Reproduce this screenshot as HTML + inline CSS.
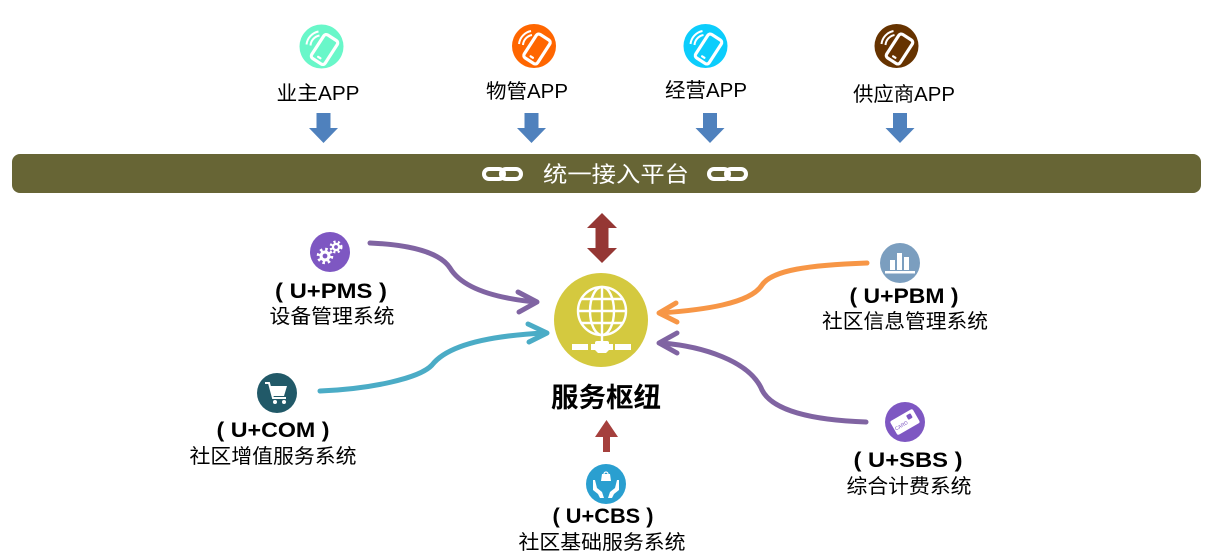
<!DOCTYPE html>
<html><head><meta charset="utf-8"><style>
html,body{margin:0;padding:0;background:#fff;}
svg{display:block;}
text{font-family:"Liberation Sans","Noto Sans CJK SC",sans-serif;}
</style></head><body>
<svg width="1207" height="560" viewBox="0 0 1207 560" xmlns="http://www.w3.org/2000/svg">
<!-- phone icons -->
<g transform="translate(321.5,46.5)">
 <circle r="22" fill="#69f7c9"/>
 <g transform="translate(3,3) rotate(33)"><rect x="-8" y="-14" width="16" height="28" rx="3" fill="none" stroke="#fff" stroke-width="3.2"/><rect x="-2.5" y="8.5" width="5" height="2.2" rx="1.1" fill="#fff"/></g>
 <path d="M-15,-2 A15,15 0 0 1 -3,-15" fill="none" stroke="#fff" stroke-width="2"/>
 <path d="M-11,-1 A11,11 0 0 1 -2,-11" fill="none" stroke="#fff" stroke-width="2"/>
</g>
<g transform="translate(534,46)">
 <circle r="22" fill="#ff6600"/>
 <g transform="translate(3,3) rotate(33)"><rect x="-8" y="-14" width="16" height="28" rx="3" fill="none" stroke="#fff" stroke-width="3.2"/><rect x="-2.5" y="8.5" width="5" height="2.2" rx="1.1" fill="#fff"/></g>
 <path d="M-15,-2 A15,15 0 0 1 -3,-15" fill="none" stroke="#fff" stroke-width="2"/>
 <path d="M-11,-1 A11,11 0 0 1 -2,-11" fill="none" stroke="#fff" stroke-width="2"/>
</g>
<g transform="translate(705.5,46)">
 <circle r="22" fill="#0ccdfc"/>
 <g transform="translate(3,3) rotate(33)"><rect x="-8" y="-14" width="16" height="28" rx="3" fill="none" stroke="#fff" stroke-width="3.2"/><rect x="-2.5" y="8.5" width="5" height="2.2" rx="1.1" fill="#fff"/></g>
 <path d="M-15,-2 A15,15 0 0 1 -3,-15" fill="none" stroke="#fff" stroke-width="2"/>
 <path d="M-11,-1 A11,11 0 0 1 -2,-11" fill="none" stroke="#fff" stroke-width="2"/>
</g>
<g transform="translate(896.5,46)">
 <circle r="22" fill="#663300"/>
 <g transform="translate(3,3) rotate(33)"><rect x="-8" y="-14" width="16" height="28" rx="3" fill="none" stroke="#fff" stroke-width="3.2"/><rect x="-2.5" y="8.5" width="5" height="2.2" rx="1.1" fill="#fff"/></g>
 <path d="M-15,-2 A15,15 0 0 1 -3,-15" fill="none" stroke="#fff" stroke-width="2"/>
 <path d="M-11,-1 A11,11 0 0 1 -2,-11" fill="none" stroke="#fff" stroke-width="2"/>
</g>
<!-- top labels -->
<text x="318" y="100" font-size="20" text-anchor="middle" textLength="83" lengthAdjust="spacingAndGlyphs" fill="#000">业主APP</text>
<text x="527" y="98" font-size="20" text-anchor="middle" textLength="82" lengthAdjust="spacingAndGlyphs" fill="#000">物管APP</text>
<text x="706" y="97" font-size="20" text-anchor="middle" textLength="82" lengthAdjust="spacingAndGlyphs" fill="#000">经营APP</text>
<text x="904" y="101" font-size="20" text-anchor="middle" textLength="102" lengthAdjust="spacingAndGlyphs" fill="#000">供应商APP</text>
<!-- down arrows -->
<g fill="#4f81bd">
 <path d="M316.5,113 h14 v15 h7.5 l-14.5,15 l-14.5,-15 h7.5 z"/>
 <path d="M524.5,113 h14 v15 h7.5 l-14.5,15 l-14.5,-15 h7.5 z"/>
 <path d="M703,113 h14 v15 h7.5 l-14.5,15 l-14.5,-15 h7.5 z"/>
 <path d="M893,113 h14 v15 h7.5 l-14.5,15 l-14.5,-15 h7.5 z"/>
</g>
<!-- bar -->
<rect x="12" y="154" width="1189" height="39" rx="8" fill="#676535"/>
<text x="616" y="182" font-size="22" text-anchor="middle" textLength="146" lengthAdjust="spacingAndGlyphs" fill="#fff">统一接入平台</text>
<g fill="none" stroke="#fff" stroke-width="4">
 <rect x="484" y="169" width="20" height="10" rx="5"/>
 <rect x="501" y="169" width="20" height="10" rx="5"/>
 <rect x="709" y="169" width="20" height="10" rx="5"/>
 <rect x="726" y="169" width="20" height="10" rx="5"/>
</g>
<!-- double arrow -->
<path d="M602,213 l15,15 h-8.5 v20 h8.5 l-15,15 l-15,-15 h8.5 v-20 h-8.5 z" fill="#953734"/>
<!-- center hub -->
<circle cx="601" cy="320" r="47" fill="#d4c93f"/>
<g fill="none" stroke="#fff" stroke-width="2.4">
 <circle cx="602" cy="311" r="24"/>
 <ellipse cx="602" cy="311" rx="12" ry="24"/>
 <line x1="602" y1="287" x2="602" y2="335"/>
 <line x1="578" y1="311" x2="626" y2="311"/>
 <line x1="581" y1="299" x2="623" y2="299"/>
 <line x1="581" y1="323" x2="623" y2="323"/>
 <line x1="602" y1="335" x2="602" y2="343"/>
</g>
<g fill="#fff">
 <rect x="572" y="344" width="16" height="6"/>
 <rect x="615" y="344" width="16" height="6"/>
 <path d="M591,344 h22 v6 h-4 l-3,3 h-8 l-3,-3 h-4 z"/>
 <rect x="595" y="341" width="14" height="5" rx="2"/>
</g>
<text x="606" y="407" font-size="27" font-weight="bold" text-anchor="middle" textLength="110" lengthAdjust="spacingAndGlyphs" fill="#000">服务枢纽</text>
<!-- up arrow bottom -->
<path d="M606.5,420 l11.5,17 h-8 v15 h-7 v-15 h-8 z" fill="#a5403d"/>
<!-- curves -->
<g fill="none" stroke-width="5" stroke-linecap="round" stroke-linejoin="round">
 <path d="M370,243 C415,245 441,254 450,268 C462,288 495,298 535,302" stroke="#8064a2"/>
 <polyline points="518,292 537,302 519,312" stroke="#8064a2"/>
 <path d="M320,391 C372,389 420,378 432,365 C446,347 482,336 545,333" stroke="#4bacc6"/>
 <polyline points="528,324 547,333 529,342" stroke="#4bacc6"/>
 <path d="M867,263 C810,265 772,270 762,285 C750,304 702,310 661,313" stroke="#f79646"/>
 <polyline points="676,303 659,313 677,322" stroke="#f79646"/>
 <path d="M866,422 C810,420 772,410 762,390 C750,361 702,346 661,343" stroke="#8064a2"/>
 <polyline points="677,333 659,343 677,353" stroke="#8064a2"/>
</g>
<!-- PMS -->
<circle cx="330" cy="252" r="20" fill="#7e57c2"/>
<g transform="translate(330,252)">
 <circle cx="-5" cy="4" r="6.5" fill="none" stroke="#fff" stroke-width="3.5" stroke-dasharray="2.4 2.7"/>
 <circle cx="-5" cy="4" r="5.5" fill="#fff"/><circle cx="-5" cy="4" r="2.4" fill="#7e57c2"/>
 <circle cx="6" cy="-5" r="5" fill="none" stroke="#fff" stroke-width="3" stroke-dasharray="2 2.2"/>
 <circle cx="6" cy="-5" r="4.2" fill="#fff"/><circle cx="6" cy="-5" r="1.9" fill="#7e57c2"/>
</g>
<text x="331" y="298" font-size="21" font-weight="bold" text-anchor="middle" textLength="112" lengthAdjust="spacingAndGlyphs">( U+PMS )</text>
<text x="332" y="323" font-size="20" text-anchor="middle" textLength="125" lengthAdjust="spacingAndGlyphs">设备管理系统</text>
<!-- COM -->
<circle cx="277" cy="393" r="20" fill="#215968"/>
<g transform="translate(277,393)" fill="#fff">
 <path d="M-12,-10 h4 l4,15 h13" fill="none" stroke="#fff" stroke-width="2"/>
 <path d="M-7,-7 h17 l-3,10 h-11 z"/>
 <circle cx="-2" cy="9" r="2"/><circle cx="7" cy="9" r="2"/>
</g>
<text x="273" y="437" font-size="21" font-weight="bold" text-anchor="middle" textLength="113" lengthAdjust="spacingAndGlyphs">( U+COM )</text>
<text x="273" y="463" font-size="20" text-anchor="middle" textLength="167" lengthAdjust="spacingAndGlyphs">社区增值服务系统</text>
<!-- PBM -->
<circle cx="900" cy="263" r="20" fill="#7b9ebf"/>
<g transform="translate(900,263)" fill="#fff">
 <rect x="-10" y="-3" width="5" height="10"/>
 <rect x="-3" y="-10" width="5" height="17"/>
 <rect x="4" y="-6" width="5" height="13"/>
 <rect x="-15" y="8" width="30" height="2.5"/>
</g>
<text x="904" y="303" font-size="21" font-weight="bold" text-anchor="middle" textLength="109" lengthAdjust="spacingAndGlyphs">( U+PBM )</text>
<text x="905" y="328" font-size="20" text-anchor="middle" textLength="166" lengthAdjust="spacingAndGlyphs">社区信息管理系统</text>
<!-- SBS -->
<circle cx="905" cy="422" r="20" fill="#7e57c2"/>
<g transform="translate(905,422) rotate(-30)">
 <rect x="-13" y="-8" width="26" height="16" rx="2" fill="#fff"/>
 <rect x="4" y="-5" width="5" height="5" rx="1" fill="#7e57c2"/>
 <text x="-5" y="3" font-size="5" fill="#7e57c2" text-anchor="middle">CARD</text>
</g>
<text x="908" y="467" font-size="21" font-weight="bold" text-anchor="middle" textLength="109" lengthAdjust="spacingAndGlyphs">( U+SBS  )</text>
<text x="909" y="493" font-size="20" text-anchor="middle" textLength="125" lengthAdjust="spacingAndGlyphs">综合计费系统</text>
<!-- CBS -->
<circle cx="606" cy="484" r="20" fill="#2a9fd0"/>
<g transform="translate(606,484)" fill="#fff">
 <path d="M-4,-10 h8 l1,7 h-10 z"/>
 <path d="M-2,-10 a2,2 0 0 1 4,0" fill="none" stroke="#fff" stroke-width="1.2"/>
 <path d="M-13,-4 l2,0 l2,8 l5,4 l2,6 h-4 l-2,-4 l-5,-4 z"/>
 <path d="M13,-4 l-2,0 l-2,8 l-5,4 l-2,6 h4 l2,-4 l5,-4 z"/>
</g>
<text x="603" y="523" font-size="21" font-weight="bold" text-anchor="middle" textLength="101" lengthAdjust="spacingAndGlyphs">( U+CBS )</text>
<text x="602" y="549" font-size="20" text-anchor="middle" textLength="167" lengthAdjust="spacingAndGlyphs">社区基础服务系统</text>
</svg>
</body></html>
